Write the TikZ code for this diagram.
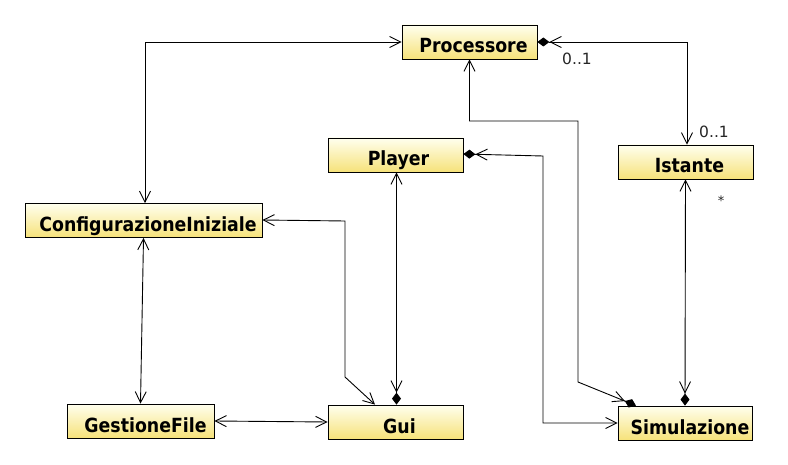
\documentclass[tikz,border=0pt]{standalone}
\usepackage{fontspec}
\newfontfamily\clsfont{DejaVu Sans}[FakeStretch=0.89]
\newfontfamily\multfont{DejaVu Sans}
\usetikzlibrary{arrows.meta}
\definecolor{clsTop}{RGB}{255,255,238}
\definecolor{clsBot}{RGB}{246,226,122}
\begin{document}
\begin{tikzpicture}[x=1pt,y=-1pt,
  cls/.style={draw=black, line width=0.8pt, top color=clsTop, bottom color=clsBot,
    inner sep=0pt, minimum height=34pt,
    font=\clsfont\bfseries\fontsize{19.5}{20}\selectfont,
    text height=22pt, text depth=0pt},
  conn/.style={line width=0.9pt, draw=black},
  both/.style={conn, {Straight Barb[length=11pt,width=11pt]}-{Straight Barb[length=11pt,width=11pt]}},
  comp/.style={conn, {Straight Barb[length=11pt,width=11pt]}-{Straight Barb[length=11pt,width=11pt] Diamond[length=12pt,width=9pt,fill=black]}},
  mult/.style={font=\multfont\fontsize{15.5}{16}\selectfont, text=black!85, inner sep=0pt}
]
\fill[white] (0,0) rectangle (788,465);
\useasboundingbox (0,0) rectangle (788,465);

% classes
\node[cls, minimum width=135pt] (P)  at (469.5,42)  {\hspace*{8pt}Processore};
\node[cls, minimum width=135pt] (I)  at (685.5,162) {\hspace*{8pt}Istante};
\node[cls, minimum width=135pt] (Pl) at (395.5,155) {\hspace*{6pt}Player};
\node[cls, minimum width=237pt] (C)  at (143.5,220.5) {\hspace*{9pt}ConfigurazioneIniziale};
\node[cls, minimum width=147pt] (GF) at (140.5,421) {\hspace*{10pt}GestioneFile};
\node[cls, minimum width=135pt] (G)  at (395.5,422) {\hspace*{8pt}Gui};
\node[cls, minimum width=134pt] (S)  at (685,423)   {\hspace*{10pt}Simulazione};

% connectors
\draw[both] (P.west) -| ([xshift=1.5pt]C.north);
\draw[comp] ([xshift=1.5pt]I.north) |- (P.east);
\draw[comp] (I.south) -- (S.north);
\draw[comp] (P.south) -- (469.5,121) -- (578,121) -- (578,382) -- ([xshift=-49pt]S.north);
\draw[comp] (S.west) -- (543,423) -- (543,156) -- ([yshift=1pt]Pl.east);
\draw[comp] ([xshift=1pt]Pl.south) -- ([xshift=1pt]G.north);
\draw[both] ([yshift=0.5pt]C.east) -- (345,221) -- (345,377) -- ([xshift=-20.5pt]G.north);
\draw[both] (C.south) -- (GF.north);
\draw[both] (GF.east) -- (G.west);

% multiplicities
\node[mult] (m1) at (577,59) {0..1};
\node[mult] (m2) at (714,132) {0..1};
\node[mult, font=\multfont\fontsize{13}{13}\selectfont] (m3) at (721,201) {*};
\end{tikzpicture}
\end{document}
